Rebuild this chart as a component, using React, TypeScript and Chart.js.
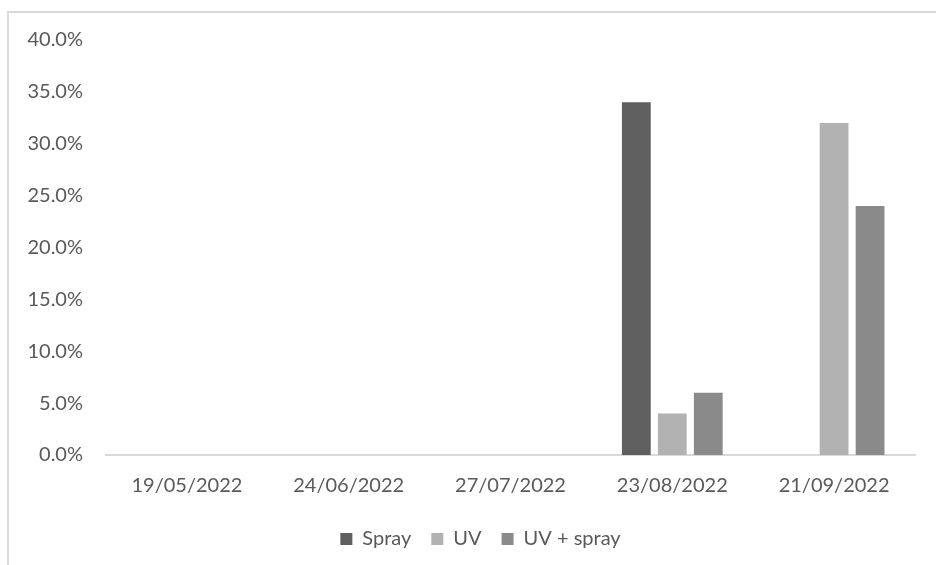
import React, { useEffect, useRef } from "react";
import { Chart, registerables } from "chart.js";

Chart.register(...registerables);

const categories = ["19/05/2022", "24/06/2022", "27/07/2022", "23/08/2022", "21/09/2022"];
const sprayValues = [0, 0, 0, 0.34, 0];
const uvValues = [0, 0, 0, 0.04, 0.32];
const uvSprayValues = [0, 0, 0, 0.06, 0.24];
const seriesNames = ["Spray", "UV", "UV + spray"];
const seriesColors = ["#5f5f5f", "#b2b2b2", "#8a8a8a"];

const FONT = "Lato, 'Open Sans', sans-serif";
const TEXT = "#595959";

const legendShift = {
  id: "legendShift",
  afterLayout(chart: any) {
    const l = chart.legend;
    if (l) {
      l.left += 19;
      l.right += 19;
    }
  },
};

export default function App() {
  const ref = useRef<HTMLCanvasElement | null>(null);

  useEffect(() => {
    if (!ref.current) return;
    const chart = new Chart(ref.current, {
      type: "bar",
      data: {
        labels: categories,
        datasets: [sprayValues, uvValues, uvSprayValues].map((vals, i) => ({
          label: seriesNames[i],
          data: vals,
          backgroundColor: seriesColors[i],
          borderWidth: 0,
          categoryPercentage: 0.667,
          barPercentage: 0.8,
        })),
      },
      plugins: [legendShift],
      options: {
        responsive: false,
        animation: false,
        maintainAspectRatio: false,
        layout: { padding: { left: 8, right: 21, top: 40, bottom: 6 } },
        plugins: {
          tooltip: { enabled: false },
          legend: {
            position: "bottom",
            labels: {
              boxWidth: 12,
              boxHeight: 12,
              padding: 20,
              color: TEXT,
              font: { family: FONT, size: 20 },
            },
          },
        },
        scales: {
          x: {
            grid: { display: false, drawTicks: false },
            border: { display: true, color: "#d9d9d9", width: 2 },
            ticks: { color: TEXT, font: { family: FONT, size: 20 }, padding: 19, maxRotation: 0 },
            afterFit: (scale: any) => {
              scale.height = 54;
            },
          },
          y: {
            min: 0,
            max: 0.4,
            grid: { display: false, drawTicks: false },
            border: { display: false },
            afterFit: (scale: any) => {
              scale.width = 98;
            },
            ticks: {
              stepSize: 0.05,
              color: TEXT,
              font: { family: FONT, size: 20 },
              padding: 23,
              callback: (v: any) => (Number(v) * 100).toFixed(1) + "%",
            },
          },
        },
      },
    });
    return () => chart.destroy();
  }, []);

  return (
    <div style={{ position: "fixed", left: 0, top: 0, width: 936, height: 565, background: "#fff" }}>
      <div
        style={{
          position: "absolute",
          left: 7,
          top: 11,
          width: 936,
          height: 565,
          borderTop: "2px solid #d9d9d9",
          borderLeft: "2px solid #d9d9d9",
        }}
      />
      <canvas ref={ref} width={936} height={565} style={{ position: "absolute", left: 0, top: 0 }} />
    </div>
  );
}
